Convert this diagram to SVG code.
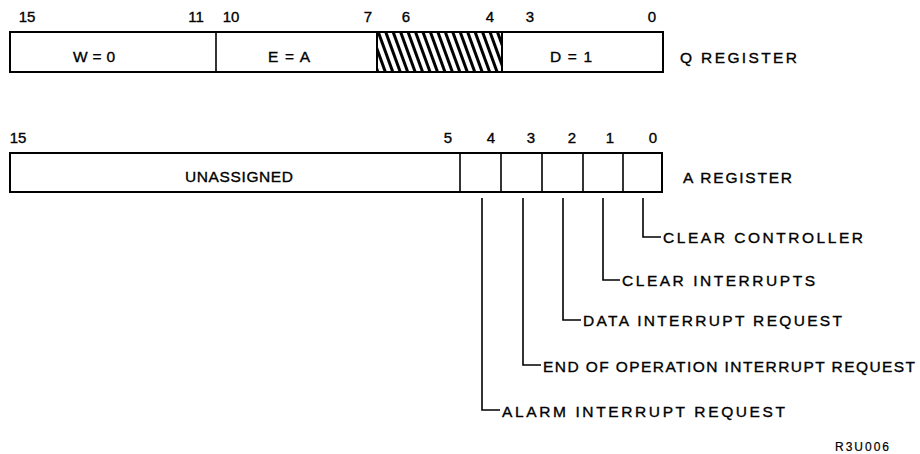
<svg xmlns="http://www.w3.org/2000/svg" width="920" height="454" viewBox="0 0 920 454">
<style>
.box{fill:#fff;stroke:#000;stroke-width:2}
.div{stroke:#000;stroke-width:1.6}
.lead{fill:none;stroke:#000;stroke-width:1.6}
text{font-family:"Liberation Sans",Arial,sans-serif;font-size:15.5px;fill:#000;stroke:#000;stroke-width:0.35}
.bit{text-anchor:middle;font-size:15px}
.small{font-size:12px;stroke-width:0.2}
</style>
<defs>
<pattern id="hatch" patternUnits="userSpaceOnUse" width="7" height="7" patternTransform="rotate(-20)">
<rect x="0" y="0" width="3" height="7" fill="#000"/>
</pattern>
</defs>
<rect width="920" height="454" fill="#fff"/>
<g id="q-register">
<rect class="box" x="10" y="32" width="653" height="40"/>
<rect x="377" y="32" width="125" height="40" fill="url(#hatch)" stroke="#000" stroke-width="2"/>
<line class="div" x1="216" y1="32" x2="216" y2="72"/>
<g class="bit-labels">
<text class="bit" x="27" y="22">15</text>
<text class="bit" x="196" y="22">11</text>
<text class="bit" x="231" y="22">10</text>
<text class="bit" x="368" y="22">7</text>
<text class="bit" x="406" y="22">6</text>
<text class="bit" x="490" y="22">4</text>
<text class="bit" x="530" y="22">3</text>
<text class="bit" x="652" y="22">0</text>
</g>
<text x="73" y="62" textLength="42" lengthAdjust="spacing">W = 0</text>
<text x="268" y="62" textLength="42" lengthAdjust="spacing">E = A</text>
<text x="550" y="62" textLength="42" lengthAdjust="spacing">D = 1</text>
<text x="680" y="63" textLength="117" lengthAdjust="spacing">Q REGISTER</text>
</g>
<g id="a-register">
<rect class="box" x="10" y="153" width="652" height="39"/>
<line class="div" x1="460" y1="153" x2="460" y2="192"/>
<line class="div" x1="501" y1="153" x2="501" y2="192"/>
<line class="div" x1="542" y1="153" x2="542" y2="192"/>
<line class="div" x1="583" y1="153" x2="583" y2="192"/>
<line class="div" x1="623" y1="153" x2="623" y2="192"/>
<g class="bit-labels">
<text class="bit" x="18" y="143">15</text>
<text class="bit" x="448" y="143">5</text>
<text class="bit" x="491" y="143">4</text>
<text class="bit" x="531" y="143">3</text>
<text class="bit" x="572" y="143">2</text>
<text class="bit" x="610" y="143">1</text>
<text class="bit" x="653" y="143">0</text>
</g>
<text x="185" y="182" textLength="108" lengthAdjust="spacing">UNASSIGNED</text>
<text x="683" y="183" textLength="109" lengthAdjust="spacing">A REGISTER</text>
</g>
<g id="connectors">
<polyline class="lead" points="643,198 643,237 661,237"/>
<polyline class="lead" points="603,198 603,280 620,280"/>
<polyline class="lead" points="563,198 563,320 581,320"/>
<polyline class="lead" points="523,198 523,365 541,365"/>
<polyline class="lead" points="482,198 482,410 500,410"/>
</g>
<g id="label-clear-controller"><text x="663" y="243" textLength="200" lengthAdjust="spacing">CLEAR  CONTROLLER</text></g>
<g id="label-clear-interrupts"><text x="622" y="286" textLength="193" lengthAdjust="spacing">CLEAR  INTERRUPTS</text></g>
<g id="label-data-interrupt"><text x="583" y="326" textLength="259" lengthAdjust="spacing">DATA  INTERRUPT  REQUEST</text></g>
<g id="label-eop-interrupt"><text x="543" y="372" textLength="372" lengthAdjust="spacing">END OF OPERATION INTERRUPT REQUEST</text></g>
<g id="label-alarm-interrupt"><text x="502" y="417" textLength="283" lengthAdjust="spacing">ALARM  INTERRUPT  REQUEST</text></g>
<text class="small" x="835" y="451" textLength="54" lengthAdjust="spacing">R3U006</text>
</svg>
